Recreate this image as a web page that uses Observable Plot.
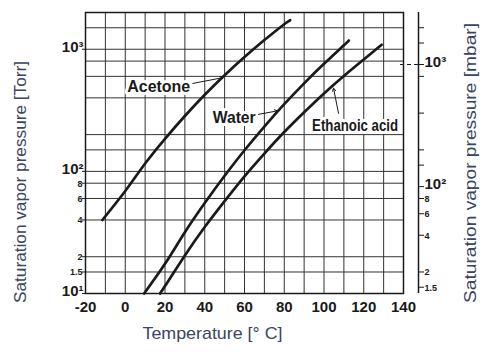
<!DOCTYPE html>
<html>
<head>
<meta charset="utf-8">
<script src="https://cdn.jsdelivr.net/npm/d3@7"></script>
<script src="https://cdn.jsdelivr.net/npm/@observablehq/plot@0.6"></script>
<style>
  html, body { margin: 0; padding: 0; background: #fff; }
  #chart { width: 482px; height: 354px; }
</style>
</head>
<body>
<div id="chart"></div>
<script>
// ---- data ----
const acetoneT = [-11.5, 0, 10, 20, 30, 40, 50, 60, 70, 80, 83];
const acetoneP = [40, 69, 116, 185, 284, 424, 613, 863, 1189, 1604, 1730];
const waterT = [9.5, 20, 30, 40, 50, 60, 70, 80, 90, 100, 110, 112.5];
const waterP = [10, 17.5, 31.7, 55, 92, 149, 233, 355, 526, 760, 1077, 1180];
const aceticT = [17.5, 20, 30, 40, 50, 60, 70, 80, 90, 100, 110, 120, 129];
const aceticP = [10, 11.5, 20.5, 35, 57, 91, 140, 210, 305, 435, 605, 825, 1090];

const xTicks = [-20, 0, 20, 40, 60, 80, 100, 120, 140];
const xGrid = [-20, -10, 0, 10, 20, 30, 40, 50, 60, 70, 80, 90, 100, 110, 120, 130, 140];
const yGrid = [15, 20, 40, 60, 80, 100, 150, 200, 400, 600, 800, 1000, 1500, 2000];
const yMajor = [10, 100, 1000];
const yMajorLabels = ["10\u00B9", "10\u00B2", "10\u00B3"];
const yMinor = [15, 20, 40, 60, 80];
const yMinorLabels = ["1.5", "2", "4", "6", "8"];

const mbarPerTorr = 1.33322;
const mbarTicks = [15, 20, 40, 60, 80, 100, 150, 200, 400, 800, 1000, 1500, 2000];
const mbarMajor = [100, 1000];
const mbarMajorLabels = ["10\u00B2", "10\u00B3"];
const mbarMinor = [15, 20, 40, 60, 80];
const mbarMinorLabels = ["1.5", "2", "4", "6", "8"];

const labels = ["Acetone", "Water", "Ethanoic acid"];
const labelT = [1, 44, 94];
const labelP = [490, 272, 234];
const leaderT1 = [34, 67, 107.3];
const leaderP1 = [525, 293, 299];
const leaderT2 = [49, 76.6, 104.8];
const leaderP2 = [585, 313, 480];

const titleLeft = "Saturation vapor pressure [Torr]";
const titleRight = "Saturation vapor pressure [mbar]";
const titleBottom = "Temperature [\u00B0 C]";

// ---- tables built from arrays ----
const series = [
  ...acetoneT.map((t, i) => ({name: "Acetone", t, p: acetoneP[i]})),
  ...waterT.map((t, i) => ({name: "Water", t, p: waterP[i]})),
  ...aceticT.map((t, i) => ({name: "Ethanoic acid", t, p: aceticP[i]}))
];
const labelRows = labels.map((s, i) => ({s, t: labelT[i], p: labelP[i]}));
const leaderRows = labels.map((s, i) => ({t1: leaderT1[i], p1: leaderP1[i], t2: leaderT2[i], p2: leaderP2[i]}));
const yMinorRows = yMinor.map((p, i) => ({p, s: yMinorLabels[i]}));
const yMajorRows = yMajor.map((p, i) => ({p, s: yMajorLabels[i]}));
const mbarMinorRows = mbarMinor.map((m, i) => ({p: m / mbarPerTorr, s: mbarMinorLabels[i]}));
const mbarMajorRows = mbarMajor.map((m, i) => ({p: m / mbarPerTorr, s: mbarMajorLabels[i]}));

const font = "Liberation Sans, Arial, Helvetica, sans-serif";
const titleColor = "#3a4560";
const ink = "#1a1a1a";
const rightDx = 15;
// condensed look: target text widths (px)
const condensedWidths = {
  "Acetone": 63, "Water": 43, "Ethanoic acid": 86,
  [titleLeft]: 242, [titleRight]: 280, [titleBottom]: 140
};

const chart = Plot.plot({
  width: 482,
  height: 354,
  marginLeft: 85,
  marginRight: 79,
  marginTop: 12,
  marginBottom: 61,
  style: {background: "#fff", color: ink, fontFamily: font},
  x: {domain: [-20, 140]},
  y: {type: "log", domain: [10, 2000]},
  marks: [
    Plot.ruleX(xGrid, {stroke: "#333", strokeWidth: 1}),
    Plot.ruleY(yGrid, {stroke: "#333", strokeWidth: 1}),
    Plot.frame({stroke: ink, strokeWidth: 1.5}),
    // bottom axis
    Plot.axisX(xTicks, {tickSize: 0, tickPadding: 8, fontSize: 15, fontWeight: "bold", label: null,
      tickFormat: d => d < 0 ? "-" + Math.abs(d) : String(d)}),
    // left axis ticks + labels
    Plot.axisY([...yMajor, ...yMinor], {anchor: "left", tickSize: 3, tickFormat: () => "", label: null}),
    Plot.text(yMajorRows, {y: "p", text: "s", frameAnchor: "left", dx: -2, dy: -2, textAnchor: "end", fontSize: 15, fontWeight: "bold", fill: ink}),
    Plot.text(yMinorRows, {y: "p", text: "s", frameAnchor: "left", dx: -3, dy: 0.5, textAnchor: "end", fontSize: 9, fontWeight: "bold", fill: ink}),
    // right mbar axis
    Plot.ruleX([140], {dx: rightDx, y1: 10, y2: 2000, stroke: ink, strokeWidth: 1.5}),
    Plot.axisY(mbarTicks.map(m => m / mbarPerTorr), {anchor: "right", dx: rightDx, tickSize: 5, tickFormat: () => "", label: null}),
    Plot.text(mbarMajorRows, {y: "p", text: "s", frameAnchor: "right", dx: rightDx + 6, dy: -2, textAnchor: "start", fontSize: 15, fontWeight: "bold", fill: ink}),
    Plot.text(mbarMinorRows, {y: "p", text: "s", frameAnchor: "right", dx: rightDx + 6, dy: 0.5, textAnchor: "start", fontSize: 9, fontWeight: "bold", fill: ink}),
    Plot.ruleY([1000 / mbarPerTorr], {x1: 138.5, x2: 140 + rightDx / 1.9875, stroke: ink, strokeWidth: 1, strokeDasharray: "4,3"}),
    // curves
    Plot.line(series, {x: "t", y: "p", z: "name", stroke: ink, strokeWidth: 2.7, curve: "natural"}),
    // curve labels (white background like the original)
    Plot.text(labelRows, {x: "t", y: "p", text: "s", textAnchor: "start", fontSize: 16, fontWeight: "bold", fill: ink, stroke: "#fff", strokeWidth: 6, paintOrder: "stroke"}),
    // leaders
    Plot.arrow(leaderRows, {x1: "t1", y1: "p1", x2: "t2", y2: "p2", stroke: ink, strokeWidth: 1, headLength: 5, bend: 0}),
    // axis titles
    Plot.text([titleLeft], {frameAnchor: "left", textAnchor: "middle", dx: -65, dy: 29, rotate: -90, fontSize: 17, fill: titleColor}),
    Plot.text([titleRight], {frameAnchor: "right", textAnchor: "middle", dx: 67, dy: 10, rotate: -90, fontSize: 17, fill: titleColor}),
    Plot.text([titleBottom], {frameAnchor: "bottom", textAnchor: "middle", dx: -32, dy: 45, fontSize: 17, fill: titleColor})
  ]
});
d3.select(chart).selectAll("text").each(function () {
  const w = condensedWidths[this.textContent];
  if (w) {
    this.setAttribute("textLength", w);
    this.setAttribute("lengthAdjust", "spacingAndGlyphs");
  }
});
document.getElementById("chart").appendChild(chart);
</script>
</body>
</html>
